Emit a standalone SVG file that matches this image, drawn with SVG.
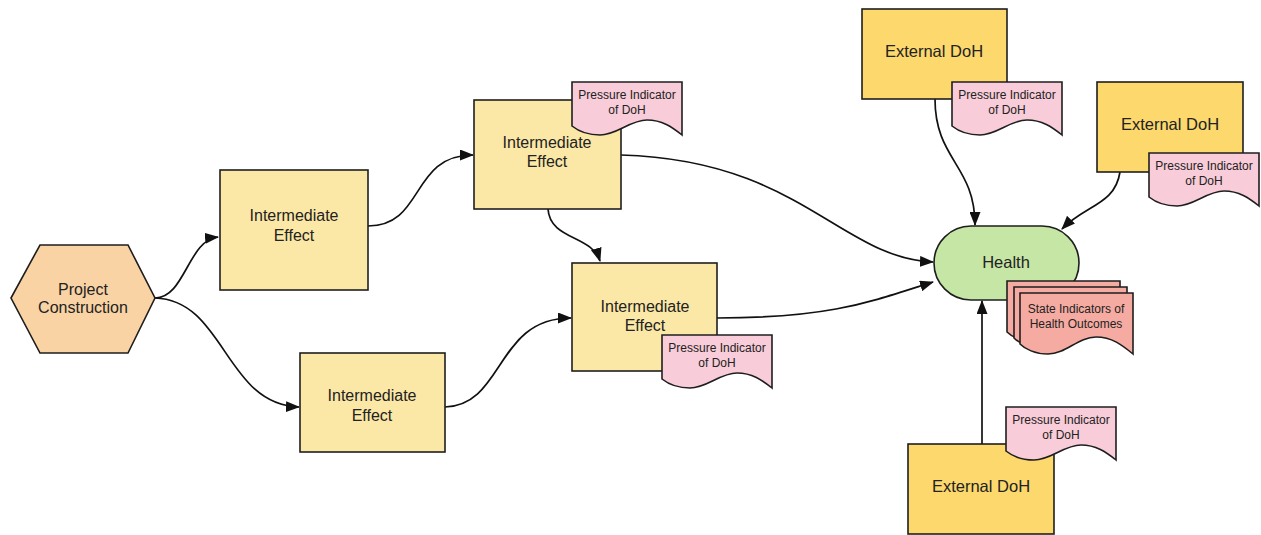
<svg xmlns="http://www.w3.org/2000/svg" width="1261" height="535" viewBox="0 0 1261 535">
<style>
.n{stroke:#1e1e1e;stroke-width:1.6}
.ie{fill:#fce8a6}
.ext{fill:#fcd86d}
.t{font-family:"Liberation Sans",Arial,sans-serif;font-size:16px;fill:#222;text-anchor:middle}
.big{font-size:16.5px}
.s{font-family:"Liberation Sans",Arial,sans-serif;font-size:12px;fill:#222;text-anchor:middle}
.c{fill:none;stroke:#111;stroke-width:1.7}
</style>
<defs>
<marker id="ah" viewBox="0 0 14 11" refX="13" refY="5.5" markerWidth="14" markerHeight="11" markerUnits="userSpaceOnUse" orient="auto">
<path d="M0,0 L14,5.5 L0,11 Z" fill="#111"/>
</marker>
<path id="doc" d="M0,0 H110 V53 C100,45 90,38 75,38 C58,38 45,53 28,53 C15,53 5,48 0,44 Z" fill="#f8ccd8" stroke="#1e1e1e" stroke-width="1.6"/>
<path id="sdoc" d="M0,0 H113 V61 C102,52 92,44 76,44 C58,44 46,61 28,61 C15,61 5,56 0,51 Z" fill="#f5aba1" stroke="#1e1e1e" stroke-width="1.6"/>
</defs>
<g id="connectors">
<path class="c" d="M155,298 C185,298 188,240 218,237" marker-end="url(#ah)"/>
<path class="c" d="M155,298 C225,300 225,405 299,407" marker-end="url(#ah)"/>
<path class="c" d="M368,226 C425,226 410,155 473,155" marker-end="url(#ah)"/>
<path class="c" d="M445,407 C505,405 495,318 571,318" marker-end="url(#ah)"/>
<path class="c" d="M548,209 C550,240 592,235 600,261" marker-end="url(#ah)"/>
<path class="c" d="M621,155 C800,160 840,258 933,262" marker-end="url(#ah)"/>
<path class="c" d="M717,318 C830,318 870,302 933,282" marker-end="url(#ah)"/>
<path class="c" d="M935,99 C935,160 975,165 975,225" marker-end="url(#ah)"/>
<path class="c" d="M1120,172 C1115,205 1085,205 1062,229" marker-end="url(#ah)"/>
<path class="c" d="M982,444 L982,301" marker-end="url(#ah)"/>
</g>
<g id="project">
<polygon class="n" points="11,298 40,245 128,245 155,298 128,353 40,353" fill="#f9d3a4"/>
<text class="t" x="83" y="295">Project</text>
<text class="t" x="83" y="313">Construction</text>
</g>
<g id="ie1">
<rect class="n ie" x="220" y="170" width="148" height="120"/>
<text class="t" x="294" y="221">Intermediate</text>
<text class="t" x="294" y="241">Effect</text>
</g>
<g id="ie2">
<rect class="n ie" x="474" y="100" width="147" height="109"/>
<text class="t" x="547" y="148">Intermediate</text>
<text class="t" x="547" y="167">Effect</text>
</g>
<g id="pi-ie2">
<use href="#doc" x="572" y="82"/>
<text class="s" x="627" y="99">Pressure Indicator</text>
<text class="s" x="627" y="114">of DoH</text>
</g>
<g id="ie3">
<rect class="n ie" x="572" y="263" width="145" height="108"/>
<text class="t" x="645" y="312">Intermediate</text>
<text class="t" x="645" y="331">Effect</text>
</g>
<g id="pi-ie3">
<use href="#doc" x="662" y="335"/>
<text class="s" x="717" y="352">Pressure Indicator</text>
<text class="s" x="717" y="367">of DoH</text>
</g>
<g id="ie4">
<rect class="n ie" x="300" y="353" width="145" height="99"/>
<text class="t" x="372" y="401">Intermediate</text>
<text class="t" x="372" y="421">Effect</text>
</g>
<g id="ext1">
<rect class="n ext" x="862" y="9" width="145" height="90"/>
<text class="t big" x="934" y="57">External DoH</text>
</g>
<g id="pi-ext1">
<use href="#doc" x="952" y="82"/>
<text class="s" x="1007" y="99">Pressure Indicator</text>
<text class="s" x="1007" y="114">of DoH</text>
</g>
<g id="ext2">
<rect class="n ext" x="1097" y="82" width="146" height="90"/>
<text class="t big" x="1170" y="130">External DoH</text>
</g>
<g id="pi-ext2">
<use href="#doc" x="1149" y="153"/>
<text class="s" x="1204" y="170">Pressure Indicator</text>
<text class="s" x="1204" y="185">of DoH</text>
</g>
<g id="health">
<rect class="n" x="934" y="226" width="145" height="74" rx="37" ry="37" fill="#c6e6a6"/>
<text class="t big" x="1006" y="268">Health</text>
</g>
<g id="state">
<use href="#sdoc" x="1007" y="281"/>
<use href="#sdoc" x="1014" y="287"/>
<use href="#sdoc" x="1020" y="293"/>
<text class="s" x="1076" y="313">State Indicators of</text>
<text class="s" x="1076" y="328">Health Outcomes</text>
</g>
<g id="ext3">
<rect class="n ext" x="908" y="444" width="146" height="90"/>
<text class="t big" x="981" y="492">External DoH</text>
</g>
<g id="pi-ext3">
<use href="#doc" x="1006" y="407"/>
<text class="s" x="1061" y="424">Pressure Indicator</text>
<text class="s" x="1061" y="439">of DoH</text>
</g>
</svg>
